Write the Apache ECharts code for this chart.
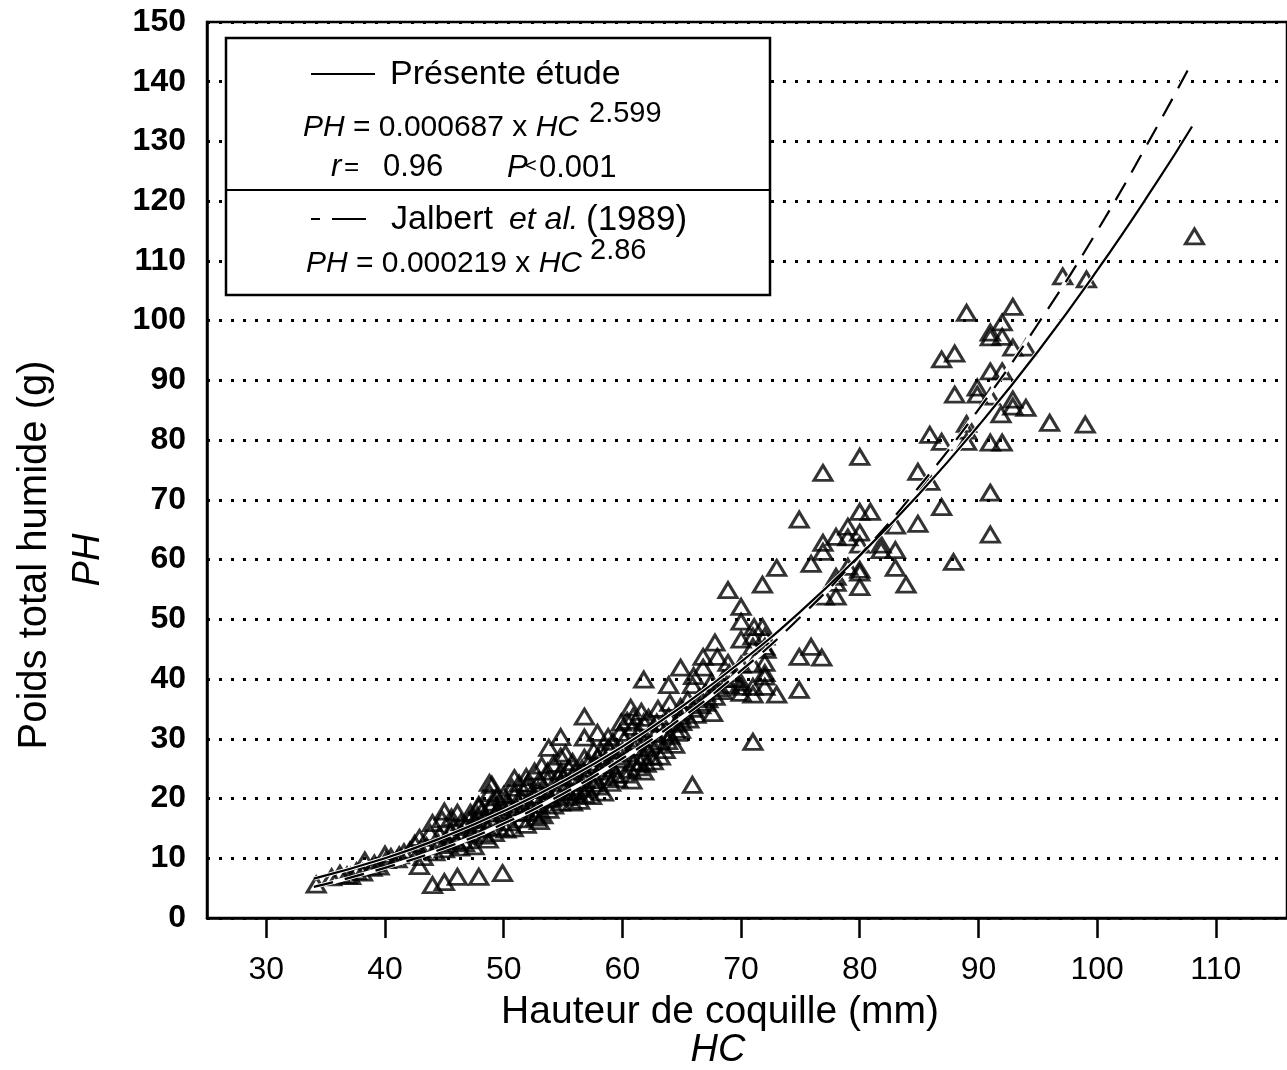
<!DOCTYPE html>
<html><head><meta charset="utf-8">
<script src="https://cdn.jsdelivr.net/npm/echarts@6/dist/echarts.min.js"></script>
<style>html,body{margin:0;padding:0;background:#fff}#c{width:1287px;height:1070px}</style>
</head><body><div id="c"></div><script>
// Tick labels
const xTickValues = [30, 40, 50, 60, 70, 80, 90, 100, 110];
const yTickValues = [0, 10, 20, 30, 40, 50, 60, 70, 80, 90, 100, 110, 120, 130, 140, 150];

const observations = [
  [34.2,5.6],[35.5,6.8],[36.2,7.4],[36.8,7.1],[37.1,7.0],[37.6,7.8],[38.1,7.6],[38.3,9.6],[38.9,8.4],[39.1,9.1],[39.5,8.6],[40.0,10.6],[40.1,9.7],[40.5,10.2],[41.0,9.8],[41.2,10.5],[41.6,11.0],[42.1,11.3],[42.5,12.4],[43.2,10.2],
  [42.9,8.7],[44.0,5.5],[45.0,6.0],[46.1,6.9],[47.9,6.9],[49.9,7.5],
  [44.0,15.9],[45.0,17.8],[46.1,17.6],[47.9,18.9],[48.8,22.6],[48.8,20.9],[47.1,16.4],[45.8,15.2],[43.8,14.2],[44.6,13.9],[42.9,13.4],[48.7,13.1],
  [44.5,12.5],[45.2,13.0],[45.5,14.5],[46.0,12.8],[46.5,14.0],[46.8,15.5],[47.3,14.2],[47.6,15.8],[48.0,14.8],[48.3,16.5],[48.6,15.0],[49.0,16.2],[49.3,17.5],[49.6,15.2],[45.0,11.5],[46.3,11.8],[43.5,12.0],[44.2,11.0],[43.0,11.5],[47.0,13.0],
  [44.8,16.5],[45.6,16.8],[46.4,16.0],[47.2,17.6],[47.8,17.2],[48.2,18.0],[48.9,18.5],[49.4,20.2],[49.8,19.0],[45.3,12.2],[46.7,12.5],[47.5,12.0],[48.4,13.8],[49.2,14.2],
  [49.0,22.3],[50.9,23.4],[51.9,23.6],[47.9,18.6],[49.0,19.3],[50.0,20.6],[50.9,20.6],[51.9,21.9],[52.9,21.4],[50.9,17.6],[51.9,17.6],[52.9,17.6],[53.8,18.1],[53.7,20.6],[54.8,19.3],[55.8,19.3],[56.8,20.6],
  [53.7,24.5],[54.8,24.5],[55.8,23.6],[53.7,23.1],[54.8,22.6],[55.8,22.6],[56.8,23.1],[57.8,23.1],[53.8,28.5],[54.8,30.3],[54.8,27.0],[55.8,26.1],[56.8,26.8],[56.8,30.2],[56.8,33.7],[57.9,31.0],[58.8,30.3],[57.9,27.0],[57.8,25.6],[58.8,28.5],[58.8,23.6],
  [51.0,19.0],[51.5,20.0],[52.0,19.5],[52.5,20.5],[53.0,19.0],[53.5,21.5],[54.0,20.0],[54.5,21.0],[50.5,18.5],[50.0,17.5],[50.5,16.0],[51.5,16.5],[49.5,18.0],[52.0,22.5],[53.0,23.0],[51.9,15.6],[53.0,16.2],
  [50.3,19.5],[50.7,21.8],[51.3,22.5],[51.7,18.5],[52.3,18.2],[52.7,16.8],[53.3,17.2],[53.6,19.8],[54.2,18.8],[54.6,23.6],[55.2,21.8],[55.6,20.5],[56.2,21.0],[56.6,25.0],[57.2,26.0],[57.6,28.0],[58.2,27.8],[58.6,25.0],[59.2,29.5],[59.8,31.0],[50.2,14.8],[50.8,15.0],
  [55.3,20.2],[55.9,21.2],[56.4,19.6],[57.0,21.6],[57.4,20.4],[58.0,22.0],[58.4,21.0],[59.0,22.6],[59.6,23.2],[60.2,24.0],[60.8,23.0],[61.3,25.2],[62.0,25.8],[62.6,26.2],[63.2,27.0],[63.8,29.6],[64.4,29.0],[64.6,31.0],[65.0,32.8],[65.6,33.2],[66.2,34.0],[66.6,35.6],[67.2,36.6],[67.8,37.0],[68.4,38.0],[69.0,39.0],[53.2,25.5],[52.6,24.5],[54.2,25.8],[55.2,27.5],
  [59.5,24.0],[60.0,26.5],[60.5,27.5],[61.0,28.5],[61.5,26.0],[62.5,27.0],[62.5,29.0],[59.0,28.0],[58.5,26.0],[58.0,24.5],[57.5,22.5],[57.0,24.0],[56.5,22.0],[56.0,24.5],[55.5,25.0],[55.0,23.5],
  [60.4,33.0],[61.4,31.0],[61.6,34.5],[62.2,33.5],[62.8,30.8],[63.4,32.5],
  [60.7,35.2],[60.9,33.7],[59.9,32.7],[61.8,32.7],[60.9,32.0],[62.9,32.7],[60.9,26.0],[61.8,27.0],[60.7,24.8],[61.8,24.5],[63.6,28.1],[61.8,39.9],[63.9,39.0],[65.9,39.0],[64.9,41.9],[67.0,37.7],[67.0,36.0],[67.6,34.3],[64.9,35.3],[64.9,33.7],[64.9,31.5],[63.9,33.7],[65.9,22.3],
  [67.8,46.1],[68.0,43.7],[66.8,43.7],[66.8,41.9],[68.9,42.7],[68.9,54.9],[70.0,52.1],[70.0,49.6],[70.0,46.6],[71.0,47.1],[71.8,48.7],[72.0,47.1],[72.1,44.9],[70.0,38.7],[70.0,37.7],[71.0,37.4],[72.0,41.0],[72.0,38.7],[73.0,37.4],[71.0,29.5],[71.1,48.7],[71.0,45.4],[72.0,45.4],[70.0,42.4],[71.0,42.4],[72.0,42.7],[72.0,40.4],[70.0,39.4],[71.0,38.7],
  [74.9,38.2],[75.9,45.4],[74.9,43.7],[76.8,43.6],[71.8,55.8],[73.0,58.6],[74.9,66.7],[76.9,74.5],
  [62.0,30.0],[62.5,31.5],[63.0,29.5],[63.5,31.0],[64.0,30.5],[64.5,32.5],[65.2,34.5],[65.5,36.5],[66.0,35.0],[66.5,37.0],[66.0,40.5],[67.5,39.5],[68.5,40.0],[69.0,41.0],[69.5,40.0],[68.0,38.5],[64.0,36.0],[63.0,35.0],[62.0,28.5],[61.2,29.5],[60.2,30.0],[60.0,28.0],[59.5,27.0],[59.0,25.5],
  [75.9,59.3],[76.9,62.8],[76.9,61.3],[77.0,53.8],[78.0,53.8],[78.0,57.1],[78.0,56.1],[79.0,58.8],[80.0,58.3],[80.0,57.8],[80.0,55.4],[79.0,65.5],[78.0,63.8],[79.0,63.7],[80.0,64.5],[80.0,62.5],[80.0,68.0],[80.9,68.0],[80.0,77.2],[81.8,62.5],[81.8,61.6],[83.0,61.6],[83.0,65.7],[83.0,58.6],[83.9,55.8],[84.9,66.0],[84.9,74.7],[85.9,73.0],[85.9,80.9],[86.9,79.7],[86.9,68.8],[87.9,59.6],
  [86.9,93.5],[88.0,94.5],[89.0,101.3],[88.0,87.6],[89.0,82.7],[89.0,81.6],[89.0,79.7],[89.9,88.8],[89.9,87.6],[91.0,87.3],[91.0,98.0],[92.0,99.7],[92.0,97.3],[91.0,97.2],[92.9,102.3],[92.9,95.5],[94.0,95.5],[91.0,91.5],[92.0,91.5],[92.9,86.8],[92.9,85.6],[94.0,85.4],[91.9,84.3],[91.0,79.6],[92.0,79.6],[91.0,71.2],[91.0,64.2],[96.0,82.9],[99.0,82.6],[97.1,107.4],[99.1,106.9],[108.2,114.1]
];

// Fitted curves
const curveHC    = [34, 40, 45, 50, 55, 60, 65, 70, 75, 80, 85, 90, 95, 100, 105, 108];
const presentPH  = [6.6, 10.0, 13.6, 17.9, 22.9, 28.7, 35.4, 42.9, 51.3, 60.7, 71.0, 82.4, 94.8, 108.4, 123.1, 132.5];
const jalbertPH  = [5.2, 8.4, 11.7, 15.8, 20.8, 26.7, 33.5, 41.4, 50.4, 60.7, 72.2, 85.1, 99.4, 115.0, 132.3, 143.3];

const presentLine = curveHC.map((x, i) => [x, presentPH[i]]);
const jalbertLine = curveHC.map((x, i) => [x, jalbertPH[i]]);

const FF = '"Liberation Sans", Arial, Helvetica, sans-serif';
const RICH = {i: {fontStyle: 'italic', fontSize: 30, fontFamily: FF, fill: '#000'}};
function t(x, y, text, size, opts) {
  opts = opts || {};
  return {
    type: 'text', x: x, y: y, z: 110, rotation: opts.rot || 0,
    style: {
      text: text, fill: '#000', rich: RICH,
      font: (opts.italic ? 'italic ' : '') + size + 'px ' + FF,
      align: opts.align || 'left', verticalAlign: 'middle'
    }
  };
}
function seg(x1, y1, x2, y2, w) {
  return {type: 'line', z: 101, shape: {x1: x1, y1: y1, x2: x2, y2: y2}, style: {stroke: '#000', lineWidth: w || 2}};
}

const chart = echarts.init(document.getElementById('c'), null, {renderer: 'canvas'});
chart.setOption({
  animation: false,
  backgroundColor: '#fff',
  grid: {left: 207, top: 22, width: 1090, height: 896, show: true, borderColor: '#000', borderWidth: 2.5, backgroundColor: 'rgba(0,0,0,0)'},
  xAxis: {
    type: 'value', min: 25, max: 116,
    axisLine: {show: true, lineStyle: {color: '#000', width: 2.5}},
    axisTick: {show: true, customValues: xTickValues, length: 20, lineStyle: {color: '#000', width: 2.5}},
    axisLabel: {customValues: xTickValues, color: '#000', fontFamily: FF, fontSize: 32, margin: 36},
    splitLine: {show: false}
  },
  yAxis: {
    type: 'value', min: 0, max: 150, interval: 10,
    axisLine: {show: true, lineStyle: {color: '#000', width: 2.5}},
    axisTick: {show: false},
    axisLabel: {color: '#000', fontFamily: FF, fontSize: 32, fontWeight: 'bold', margin: 21,
      formatter: v => (yTickValues.indexOf(v) >= 0 ? String(v) : '')},
    splitLine: {show: true, lineStyle: {color: '#000', width: 3, type: [3, 9]}}
  },
  series: [
    {type: 'scatter', data: observations, symbol: 'triangle', symbolSize: [18, 15],
      itemStyle: {color: 'rgba(0,0,0,0)', borderColor: '#000', borderWidth: 3}, z: 2, silent: true},
    {type: 'line', data: presentLine, smooth: true, symbol: 'none', lineStyle: {color: '#fff', width: 4}, z: 3, silent: true},
    {type: 'line', data: jalbertLine, smooth: true, symbol: 'none', lineStyle: {color: '#fff', width: 4}, z: 3, silent: true},
    {type: 'line', data: presentLine, smooth: true, symbol: 'none', lineStyle: {color: '#000', width: 2.2}, z: 4, silent: true},
    {type: 'line', data: jalbertLine, smooth: true, symbol: 'none', lineStyle: {color: '#000', width: 2.2, type: [20, 12]}, z: 4, silent: true}
  ],
  graphic: [
    {type: 'rect', z: 100, shape: {x: 226, y: 38, width: 544, height: 257}, style: {fill: '#fff', stroke: '#000', lineWidth: 2.5}},
    seg(226, 190, 770, 190, 2),
    seg(311, 74, 375, 74, 2),
    t(390, 75, 'Présente étude', 34),
    t(303, 128, '{i|PH} = 0.000687 x {i|HC}', 30),
    t(589, 114, '2.599', 29),
    t(331, 167, 'r', 31, {italic: true}),
    t(344, 168, '=', 26),
    t(383, 167, '0.96', 31),
    t(507, 168, 'P', 31, {italic: true}),
    t(525, 166, '<', 20),
    t(539, 168, '0.001', 31),
    seg(311, 219, 320, 219, 2),
    seg(332, 219, 366, 219, 2),
    t(391, 220, 'Jalbert', 34),
    t(509, 220, 'et al.', 32, {italic: true}),
    t(586, 220, '(1989)', 35),
    t(306, 264, '{i|PH} = 0.000219 x {i|HC}', 30),
    t(590, 251, '2.86', 29),
    t(720, 1012, 'Hauteur de coquille (mm)', 39, {align: 'center'}),
    t(718, 1050, 'HC', 38, {align: 'center', italic: true}),
    t(35, 555, 'Poids total humide (g)', 40, {align: 'center', rot: Math.PI / 2}),
    t(88, 560, 'PH', 38, {align: 'center', italic: true, rot: Math.PI / 2})
  ]
});
</script></body></html>
